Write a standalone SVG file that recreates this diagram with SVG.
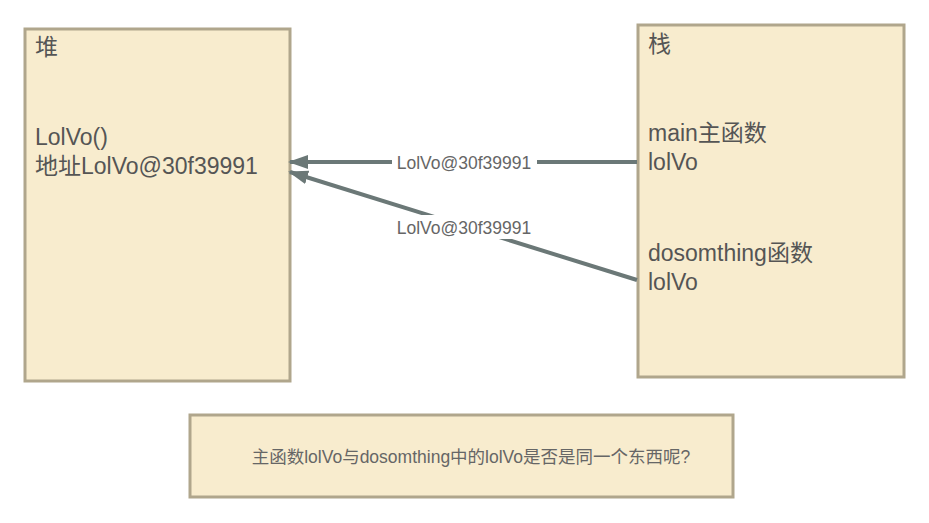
<svg xmlns="http://www.w3.org/2000/svg" width="929" height="523" viewBox="0 0 929 523">
<style>
.box{fill:#f8ecce;stroke:#b0a68c;stroke-width:3}
.t{font-family:"Liberation Sans","Noto Sans CJK SC",sans-serif;fill:#555;font-size:23px}
.lbl{font-family:"Liberation Sans","Noto Sans CJK SC",sans-serif;fill:#666;font-size:17.5px;text-anchor:middle}
.c{stroke:#6b7877;stroke-width:4;fill:none}
</style>
<defs><marker id="a" viewBox="0 0 10 10" refX="9" refY="5" markerWidth="5" markerHeight="5" orient="auto" markerUnits="strokeWidth"><path d="M0,1.5L10,5L0,8.5z" fill="#6b7877"/></marker></defs>
<rect width="929" height="523" fill="#fff"/>
<g id="heap"><rect class="box" x="25" y="29" width="265" height="352"/>
<text class="t" x="35" y="55">堆</text><text class="t" x="35" y="145">LolVo()</text><text class="t" x="35" y="174">地址LolVo@30f39991</text></g>
<g id="stack"><rect class="box" x="638" y="25" width="266" height="352"/>
<text class="t" x="648" y="52">栈</text><text class="t" x="648" y="141">main主函数</text><text class="t" x="648" y="170">lolVo</text>
<text class="t" x="648" y="261">dosomthing函数</text><text class="t" x="648" y="290">lolVo</text></g>
<g id="note"><rect class="box" x="190" y="415" width="543" height="82"/>
<text class="lbl" x="471" y="463">主函数lolVo与dosomthing中的lolVo是否是同一个东西呢?</text></g>
<g id="connectors">
<path class="c" d="M637,162L290,162" marker-end="url(#a)"/>
<path class="c" d="M637,280L290,172" marker-end="url(#a)"/>
<rect x="392" y="152" width="145" height="20" fill="#fff"/>
<text class="lbl" x="464" y="169">LolVo@30f39991</text>
<rect x="392" y="215" width="145" height="24" fill="#fff"/>
<text class="lbl" x="464" y="234">LolVo@30f39991</text>
</g>
</svg>
